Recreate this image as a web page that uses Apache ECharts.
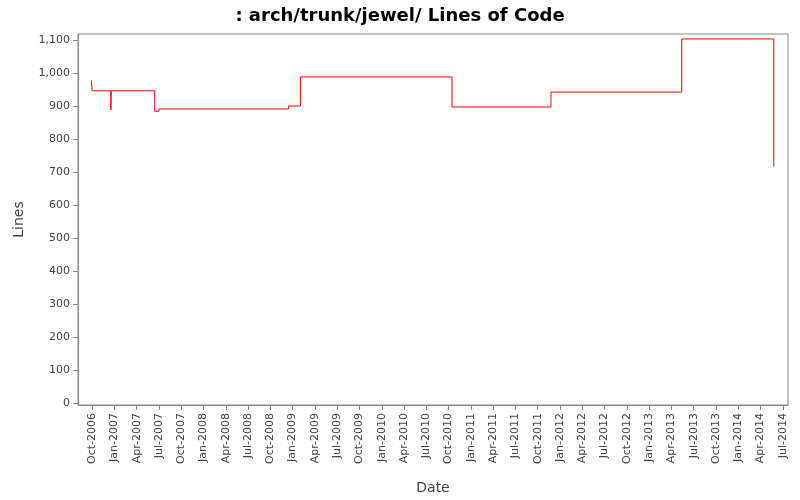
<!DOCTYPE html>
<html>
<head>
<meta charset="utf-8">
<script src="https://cdn.jsdelivr.net/npm/echarts@6/dist/echarts.min.js"></script>
</head>
<body style="margin:0">
<div id="main" style="width:800px;height:500px"></div>
<script>
// commit dates and line counts (step chart)
var dates = ['2006-09-28', '2006-10-01', '2006-12-17', '2006-12-19', '2007-06-14', '2007-07-01',
             '2008-12-15', '2009-02-03', '2010-10-15', '2011-11-25', '2013-05-13', '2014-05-25', '2014-05-26'];
var lines = [978, 946, 888, 946, 884, 891, 900, 988, 897, 942, 1103, 716, 716];
var monthNames = ['Jan', 'Feb', 'Mar', 'Apr', 'May', 'Jun', 'Jul', 'Aug', 'Sep', 'Oct', 'Nov', 'Dec'];
var yTicks = [0, 100, 200, 300, 400, 500, 600, 700, 800, 900, 1000, 1100];

// months since Oct-2006
function toMonth(s) {
    var p = s.split('-');
    return (+p[0] - 2006) * 12 + (+p[1] - 10) + (+p[2] - 1) / 30.5;
}
var xTicks = [];
for (var m = 0; m <= 93; m += 3) xTicks.push(m);
function monthLabel(m) {
    var idx = 9 + Math.round(m);
    return monthNames[idx % 12] + '-' + (2006 + Math.floor(idx / 12));
}
var data = dates.map(function (d, i) { return [toMonth(d), lines[i]]; });

var option = {
    animation: false,
    title: {
        text: ': arch/trunk/jewel/ Lines of Code',
        left: 'center',
        top: 2,
        textStyle: { fontFamily: 'DejaVu Sans', fontSize: 18, fontWeight: 'bold', color: '#000' }
    },
    grid: {
        left: 78, right: 12, top: 34, bottom: 90,
        show: true, borderColor: '#888', borderWidth: 1, backgroundColor: '#fff'
    },
    xAxis: {
        type: 'value',
        min: -1.9,
        max: 93.7,
        name: 'Date',
        nameLocation: 'middle',
        nameGap: 76,
        nameTextStyle: { fontFamily: 'DejaVu Sans', fontSize: 14, color: '#444' },
        splitLine: { show: false },
        axisLine: { show: true, onZero: false, lineStyle: { color: '#888' } },
        axisTick: { show: true, customValues: xTicks, lineStyle: { color: '#888' } },
        axisLabel: {
            customValues: xTicks,
            rotate: 90,
            fontFamily: 'DejaVu Sans',
            fontSize: 11,
            color: '#444',
            formatter: function (v) { return monthLabel(v); }
        }
    },
    yAxis: {
        type: 'value',
        min: -6,
        max: 1118,
        name: 'Lines',
        nameLocation: 'middle',
        nameGap: 52,
        nameTextStyle: { fontFamily: 'DejaVu Sans', fontSize: 14, color: '#444' },
        splitLine: { show: false },
        axisLine: { show: true, onZero: false, lineStyle: { color: '#888' } },
        axisTick: { show: true, customValues: yTicks, lineStyle: { color: '#888' } },
        axisLabel: {
            customValues: yTicks,
            fontFamily: 'DejaVu Sans',
            fontSize: 11,
            color: '#444',
            formatter: function (v) { return v.toLocaleString('en-US'); }
        }
    },
    series: [{
        type: 'line',
        step: 'end',
        data: data,
        symbol: 'none',
        lineStyle: { color: '#ff0000', width: 1 }
    }]
};
var myChart = echarts.init(document.getElementById('main'));
myChart.setOption(option);
</script>
</body>
</html>
